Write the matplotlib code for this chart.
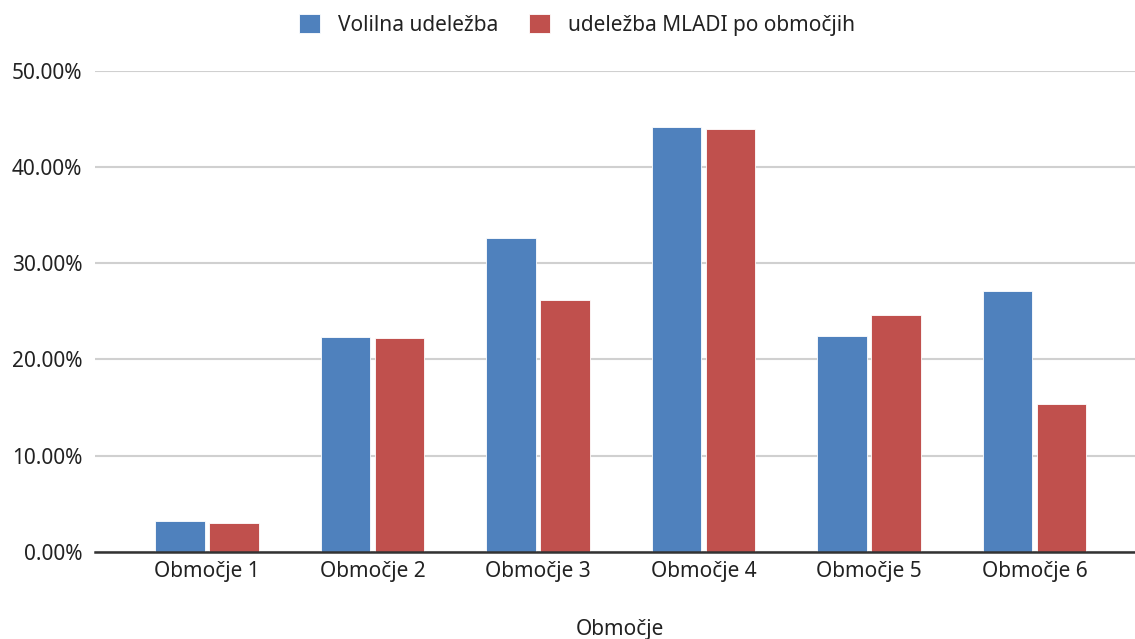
import matplotlib
matplotlib.use("Agg")
import matplotlib.pyplot as plt
import numpy as np
from matplotlib.ticker import FuncFormatter, MultipleLocator

categories = ["Območje 1", "Območje 2", "Območje 3", "Območje 4", "Območje 5", "Območje 6"]
volilna = [3.19, 22.38, 32.6, 44.18, 22.41, 27.12]
mladi = [2.95, 22.20, 26.14, 44.01, 24.58, 15.38]
series_names = ["Volilna udeležba", "udeležba MLADI po območjih"]
x_title = "Območje"

BLUE = "#4F81BD"
RED = "#C0504D"
TXT = "#222222"
FS = 15

plt.rcParams['font.family'] = ['Noto Sans', 'DejaVu Sans']

W, H = 1135, 639
fig = plt.figure(figsize=(W / 100, H / 100), dpi=100)
left = 95 / W
bottom = (H - 551.7) / H
top = (H - 71) / H
ax = fig.add_axes([left, bottom, 1 - left, top - bottom])

x = np.arange(len(categories))
w = 0.30
off = 0.163
b1 = ax.bar(x - off, volilna, width=w, color=BLUE, edgecolor="white", linewidth=0.6, zorder=3, label=series_names[0])
b2 = ax.bar(x + off, mladi, width=w, color=RED, edgecolor="white", linewidth=0.6, zorder=3, label=series_names[1])

ax.set_ylim(0, 50)
ax.set_xlim(-0.677, 5.607)
ax.yaxis.set_major_locator(MultipleLocator(10))
ax.yaxis.set_major_formatter(FuncFormatter(lambda v, p: f"{v:.2f}%"))
ax.grid(axis="y", color="#d0d0d0", linewidth=1.5, zorder=0)
ax.set_axisbelow(True)

for s in ["top", "right", "left"]:
    ax.spines[s].set_visible(False)
ax.spines["bottom"].set_color("#333333")
ax.spines["bottom"].set_linewidth(1.8)
ax.spines["bottom"].set_zorder(4)

ax.set_xticks(x)
ax.set_xticklabels(categories)
ax.tick_params(axis="both", length=0, labelsize=FS, labelcolor=TXT)
ax.tick_params(axis="y", pad=9)
ax.tick_params(axis="x", pad=7)

fig.text(620 / W, 1 - 630 / H, x_title, ha="center", va="center", fontsize=FS, color=TXT)

leg = fig.legend(handles=[b1, b2], labels=series_names, loc="center",
                 bbox_to_anchor=(577 / W, 1 - 25 / H), ncol=2, frameon=False,
                 fontsize=FS, handlelength=1.0, handleheight=1.0,
                 handletextpad=0.85, columnspacing=1.5, labelcolor=TXT)

fig.savefig("out.png", dpi=100)
